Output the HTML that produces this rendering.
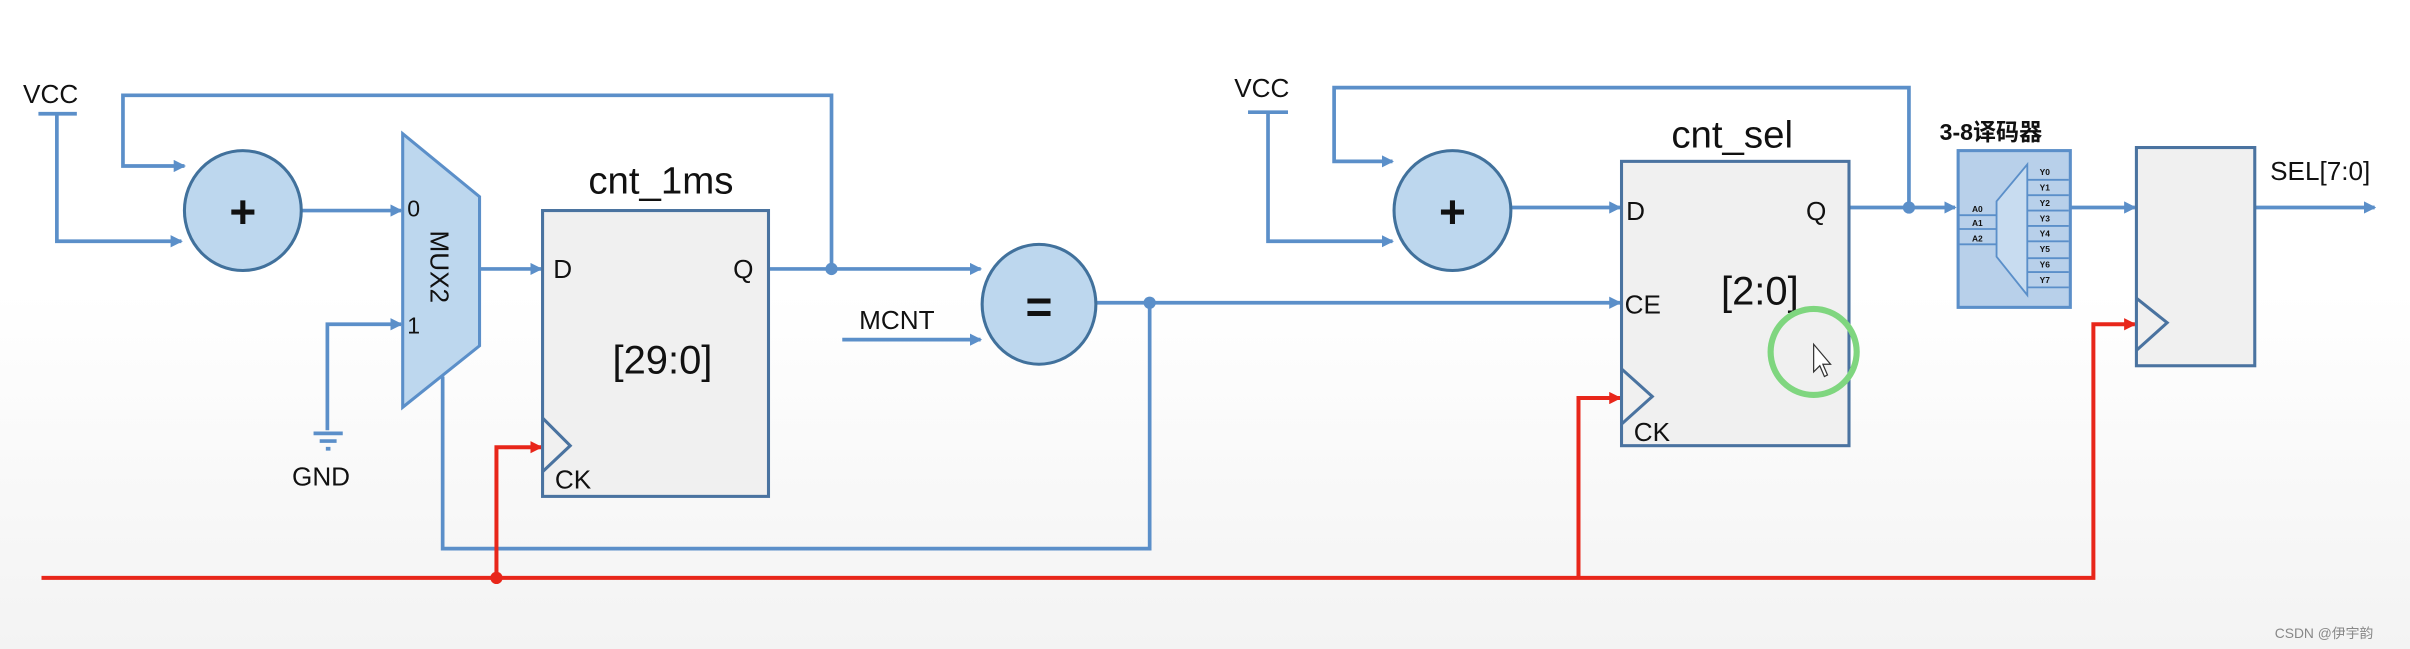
<!DOCTYPE html>
<html><head><meta charset="utf-8"><style>
html,body{margin:0;padding:0;background:#fff;}
svg{display:block;}
text{font-family:"Liberation Sans","Noto Sans CJK SC",sans-serif;fill:#111;}
</style></head><body>
<svg width="2410" height="649" viewBox="0 0 1568 422.3" preserveAspectRatio="none" xmlns="http://www.w3.org/2000/svg">
<defs>
<linearGradient id="bg" x1="0" y1="0" x2="0" y2="1">
<stop offset="0" stop-color="#ffffff"/><stop offset="0.45" stop-color="#ffffff"/><stop offset="1" stop-color="#f3f3f3"/>
</linearGradient>
<marker id="ab" markerWidth="8" markerHeight="8" refX="7" refY="4" orient="auto" markerUnits="userSpaceOnUse"><path d="M0,0 L8,4 L0,8 Z" fill="#5b8fc9"/></marker>
<marker id="ar" markerWidth="8" markerHeight="8" refX="7" refY="4" orient="auto" markerUnits="userSpaceOnUse"><path d="M0,0 L8,4 L0,8 Z" fill="#e8261a"/></marker>
</defs>
<rect width="1568" height="422.3" fill="url(#bg)"/>
<g stroke="#5b8fc9" stroke-width="2.4" fill="none">
<!-- left section -->
<path d="M25,74 H50"/>
<path d="M37,74 V157 H118" marker-end="url(#ab)"/>
<path d="M541,175 V62 H80 V108 H120" marker-end="url(#ab)"/>
<path d="M196,137 H261" marker-end="url(#ab)"/>
<path d="M213,280 V211 H261" marker-end="url(#ab)"/>
<path d="M204,282 H223 M208,287 H219 M212,292 H215"/>
<path d="M312,175 H352" marker-end="url(#ab)"/>
<path d="M500,175 H638" marker-end="url(#ab)"/>
<path d="M548,221 H638" marker-end="url(#ab)"/>
<path d="M713,197 H1054" marker-end="url(#ab)"/>
<path d="M748,197 V357 H288 V245"/>
<!-- right section -->
<path d="M812,73 H838"/>
<path d="M825,73 V157 H906" marker-end="url(#ab)"/>
<path d="M1242,135 V57 H868 V105 H906" marker-end="url(#ab)"/>
<path d="M983,135 H1054" marker-end="url(#ab)"/>
<path d="M1203,135 H1272" marker-end="url(#ab)"/>
<path d="M1346,135 H1389" marker-end="url(#ab)"/>
<path d="M1467,135 H1545" marker-end="url(#ab)"/>
</g>
<g fill="#5b8fc9"><circle cx="541" cy="175" r="4"/><circle cx="748" cy="197" r="4"/><circle cx="1242" cy="135" r="4"/></g>
<!-- red clock -->
<g stroke="#e8261a" stroke-width="2.6" fill="none">
<path d="M27,376 H1362 V211 H1389" marker-end="url(#ar)"/>
<path d="M323,376 V291 H352" marker-end="url(#ar)"/>
<path d="M1027,376 V259 H1054" marker-end="url(#ar)"/>
</g>
<circle cx="323" cy="376" r="4" fill="#e8261a"/>
<!-- circles -->
<g fill="#bdd7ee" stroke="#41719c" stroke-width="2">
<ellipse cx="158" cy="137" rx="38" ry="39"/>
<ellipse cx="676" cy="198" rx="37" ry="39"/>
<ellipse cx="945" cy="137" rx="38" ry="39"/>
</g>
<text x="158" y="148" font-size="30" text-anchor="middle" font-weight="bold">+</text>
<text x="945" y="148" font-size="30" text-anchor="middle" font-weight="bold">+</text>
<text x="676" y="210" font-size="30" text-anchor="middle" font-weight="bold">=</text>
<!-- mux -->
<path d="M262,87 L312,128 L312,225 L262,265 Z" fill="#bdd7ee" stroke="#5b8fc9" stroke-width="2"/>
<text x="265" y="141" font-size="15">0</text>
<text x="265" y="217" font-size="15">1</text>
<text x="0" y="0" font-size="17" transform="translate(280,150) rotate(90)">MUX2</text>
<!-- cnt_1ms -->
<rect x="353" y="137" width="147" height="186" fill="#f0f0f0" stroke="#4a73a0" stroke-width="2"/>
<path d="M353,272 L371,290 L353,307" fill="none" stroke="#4a73a0" stroke-width="2"/>
<text x="430" y="126" font-size="25" text-anchor="middle">cnt_1ms</text>
<text x="360" y="181" font-size="17">D</text>
<text x="477" y="181" font-size="17">Q</text>
<text x="431" y="243" font-size="26" text-anchor="middle">[29:0]</text>
<text x="361" y="318" font-size="17">CK</text>
<!-- labels -->
<text x="15" y="67" font-size="17">VCC</text>
<text x="190" y="316" font-size="17">GND</text>
<text x="559" y="214" font-size="17">MCNT</text>
<text x="803" y="63" font-size="17">VCC</text>
<!-- cnt_sel -->
<rect x="1055" y="105" width="148" height="185" fill="#f0f0f0" stroke="#4a73a0" stroke-width="2"/>
<path d="M1055,240 L1075,258 L1055,276" fill="none" stroke="#4a73a0" stroke-width="2"/>
<text x="1127" y="96" font-size="25" text-anchor="middle">cnt_sel</text>
<text x="1058" y="143" font-size="17">D</text>
<text x="1175" y="143" font-size="17">Q</text>
<text x="1057" y="204" font-size="17">CE</text>
<text x="1145" y="198" font-size="26" text-anchor="middle">[2:0]</text>
<text x="1063" y="287" font-size="17">CK</text>
<circle cx="1180" cy="229" r="28" fill="none" stroke="#7fd67f" stroke-width="4"/>
<path d="M1180,224 L1180,242 L1184,238 L1187,245 L1189,244 L1186,237 L1191,237 Z" fill="#fff" stroke="#333" stroke-width="0.8"/>
<!-- decoder -->
<text x="1262" y="91" font-size="15" font-weight="bold">3-8译码器</text>
<rect x="1274" y="98" width="73" height="102" fill="#b8d0ea" stroke="#5b8fc9" stroke-width="2"/>
<g stroke="#5b8fc9" stroke-width="1.2" fill="none">
<path d="M1299,131 L1319,107 L1319,192 L1299,167 Z" fill="#c8dcf0"/>
<path d="M1274,140 H1299 M1274,149 H1299 M1274,159 H1299"/>
<path d="M1319,117 H1346 M1319,127 H1346 M1319,137 H1346 M1319,147 H1346 M1319,157 H1346 M1319,168 H1346 M1319,177 H1346 M1319,187 H1346"/>
</g>
<g font-size="5.5" font-family="Liberation Serif,serif" font-weight="bold">
<text x="1283" y="138">A0</text><text x="1283" y="147">A1</text><text x="1283" y="157">A2</text>
<text x="1327" y="114">Y0</text><text x="1327" y="124">Y1</text><text x="1327" y="134">Y2</text><text x="1327" y="144">Y3</text>
<text x="1327" y="154">Y4</text><text x="1327" y="164">Y5</text><text x="1327" y="174">Y6</text><text x="1327" y="184">Y7</text>
</g>
<!-- output register -->
<rect x="1390" y="96" width="77" height="142" fill="#f0f0f0" stroke="#4a73a0" stroke-width="2"/>
<path d="M1390,194 L1410,210 L1390,228" fill="none" stroke="#4a73a0" stroke-width="2"/>
<text x="1477" y="117" font-size="17">SEL[7:0]</text>
<text x="1480" y="415" font-size="9" fill="#888" style="fill:#888">CSDN @伊宇韵</text>
</svg>
</body></html>
